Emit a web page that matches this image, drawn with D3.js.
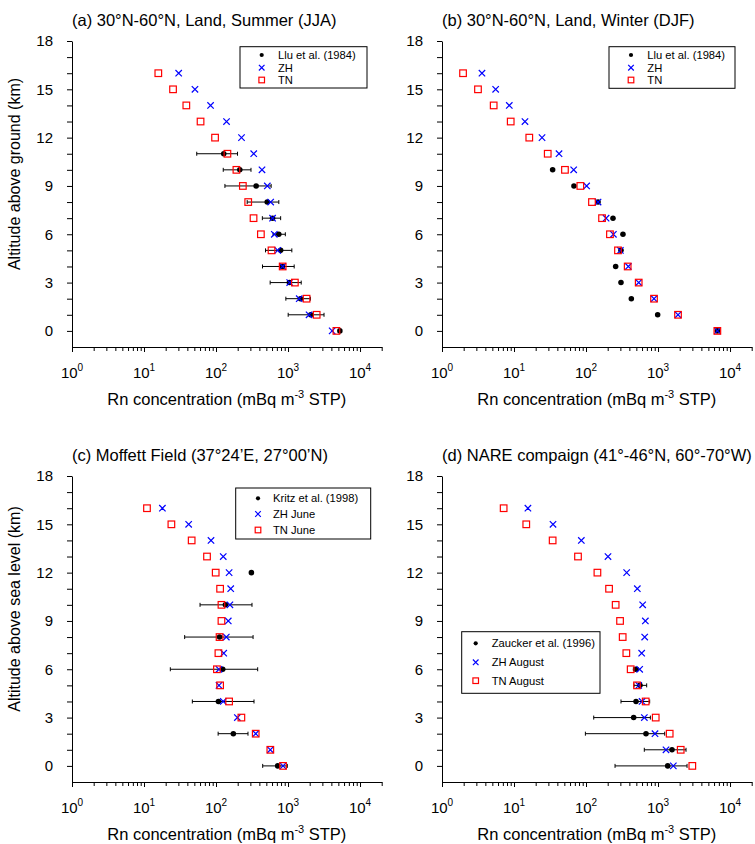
<!DOCTYPE html>
<html>
<head>
<meta charset="utf-8">
<script src="https://cdn.jsdelivr.net/npm/d3@7"></script>
<style>
  body { margin: 0; background: #fff; }
  svg { display: block; font-family: "Liberation Sans", Arial, Helvetica, sans-serif; }
</style>
</head>
<body>
<svg id="fig" width="755" height="844"></svg>
<script>
// altitude levels (km), index 0 = ground
var altitudes = d3.range(0, 17);

// (a) 30N-60N land, summer
var aTN  = [4700, 2500, 1810, 1245, 843, 590, 420, 332, 280, 236, 192, 144, 97, 61, 38.7, 25.3, 15.8];
var aZH  = [4100, 1960, 1430, 1055, 843, 720, 645, 610, 574, 516, 435, 334, 226, 140, 84, 51, 30.3];
var aObs = [5250, 2065, 1490, 1045, 835, 790, 745, 610, 514, 361, 214, 128];
var aLo  = [null, 1005, 933, 565, 442, 487, 620, 440, 271, 133, 126, 54];
var aHi  = [null, 3162, 2044, 1525, 1218, 1130, 918, 790, 745, 583, 306, 199];

// (b) 30N-60N land, winter
var bTN  = [6670, 1896, 880, 539, 379, 278, 215, 167, 121, 83.4, 51, 29.4, 16.3, 9.0, 5.22, 3.16, 1.96];
var bZH  = [6670, 1896, 880, 539, 387, 300, 240, 190, 147, 102, 67.4, 42.2, 24.5, 14.2, 8.6, 5.56, 3.59];
var bObs = [6670, 989, 426, 306, 258, 306, 326, 237, 147, 68, 34.4];

// (c) Moffett Field
var cTN  = [853, 568, 356, 225, 152, 114, 103, 108, 112, 119, 119, 114, 99, 75, 45.9, 24.0, 11.0];
var cZH  = [853, 568, 356, 198, 126, 110, 110, 128, 139, 148, 156, 160, 152, 126, 85.2, 41.7, 18.0];
var cObs = [719, null, 174, null, 108, null, 124, null, 112, null, 135, null, 310];
var cLo  = [445, null, 107, null, 46.9, null, 23.2, null, 36.7, null, 60, null, null];
var cHi  = [977, null, 278, null, 337, null, 379, null, 327, null, 316, null, null];

// (d) NARE
var dTN  = [2994, 2066, 1452, 929, 674, 511, 417, 363, 323, 297, 258, 209, 144, 77.4, 34.4, 14.8, 7.18];
var dZH  = [1632, 1291, 908, 646, 600, 539, 556, 593, 653, 667, 612, 516, 367, 202, 86.1, 34.8, 15.6];
var dObs = [1364, 1564, 681, 459, 495, 562, 490];
var dLo  = [253, 645, 98, 128, 306, 464, 455];
var dHi  = [2529, 2449, 1238, 783, 766, 696, 530];

var decades = [1, 10, 100, 1000, 10000];
var yTicks = d3.range(0, 19);

var panels = [
  { left: 72, top: 41, title: "(a) 30\u00b0N-60\u00b0N, Land, Summer (JJA)", ylab: "Altitude above ground (km)",
    tn: aTN, zh: aZH, obs: aObs, lo: aLo, hi: aHi,
    leg: { x: 240, y: 46.7, w: 127, h: 41.3, mx: 21.7, tx: 38, rows: [8.3, 21, 33.3],
           labels: ["Llu et al. (1984)", "ZH", "TN"] } },
  { left: 442, top: 41, title: "(b) 30\u00b0N-60\u00b0N, Land, Winter (DJF)", ylab: null,
    tn: bTN, zh: bZH, obs: bObs, lo: [], hi: [],
    leg: { x: 609, y: 46.7, w: 126, h: 41.6, mx: 22, tx: 38.3, rows: [8.3, 21, 33.3],
           labels: ["Llu et al. (1984)", "ZH", "TN"] } },
  { left: 72, top: 476, title: "(c) Moffett Field (37\u00b024\u2019E, 27\u00b000\u2019N)", ylab: "Altitude above sea level (km)",
    tn: cTN, zh: cZH, obs: cObs, lo: cLo, hi: cHi,
    leg: { x: 235.7, y: 488, w: 135, h: 51, mx: 22.3, tx: 37.3, rows: [10.3, 26, 42],
           labels: ["Kritz et al. (1998)", "ZH June", "TN June"] } },
  { left: 442, top: 476, title: "(d) NARE compaign (41\u00b0-46\u00b0N, 60\u00b0-70\u00b0W)", ylab: null,
    tn: dTN, zh: dZH, obs: dObs, lo: dLo, hi: dHi,
    leg: { x: 461.7, y: 631.7, w: 138.3, h: 61.6, mx: 14, tx: 30, rows: [11.6, 30.6, 49],
           labels: ["Zaucker et al. (1996)", "ZH August", "TN August"] } }
];

var W = 309.7, H = 306;
var x = d3.scaleLog().domain([1, 20000]).range([0, W]);
var y = d3.scaleLinear().domain([-1, 18]).range([H, 0]);

var minorTicks = [];
decades.forEach(function(d) {
  for (var k = 2; k <= 9; k++) if (d * k <= 20000) minorTicks.push(d * k);
});

var svg = d3.select("#fig");
svg.append("rect").attr("width", 755).attr("height", 844).attr("fill", "white");

function drawMarker(g, type, cx, cy, s) {
  if (type === "obs") {
    g.append("circle").attr("cx", cx).attr("cy", cy).attr("r", s * 0.42).attr("fill", "black");
  } else if (type === "zh") {
    var h = s / 2;
    g.append("path")
      .attr("d", "M" + (cx - h) + "," + (cy - h) + "L" + (cx + h) + "," + (cy + h) +
                 "M" + (cx - h) + "," + (cy + h) + "L" + (cx + h) + "," + (cy - h))
      .attr("stroke", "#0000ff").attr("stroke-width", 1.2).attr("fill", "none");
  } else {
    g.append("rect").attr("x", cx - s / 2).attr("y", cy - s / 2).attr("width", s).attr("height", s)
      .attr("stroke", "#ff0000").attr("stroke-width", 1.2).attr("fill", "none");
  }
}

panels.forEach(function(p) {
  var g = svg.append("g").attr("transform", "translate(" + p.left + "," + p.top + ")");

  // title
  g.append("text").attr("x", 0).attr("y", -15).attr("font-size", "16.5px").text(p.title);

  // y axis
  var ya = g.append("g").call(d3.axisLeft(y).tickValues(yTicks)
    .tickFormat(function(d) { return d % 3 === 0 ? d : ""; })
    .tickSize(5).tickSizeOuter(0).tickPadding(14));
  ya.selectAll("text").attr("font-size", "15px").attr("font-family", null);
  ya.selectAll("line, path").attr("stroke", "black");

  // x axis
  var xa = g.append("g").attr("transform", "translate(0," + H + ")")
    .call(d3.axisBottom(x).tickValues(decades).tickFormat("").tickSize(5).tickSizeOuter(0));
  xa.selectAll("line, path").attr("stroke", "black");
  var xm = g.append("g").attr("transform", "translate(0," + H + ")")
    .call(d3.axisBottom(x).tickValues(minorTicks).tickFormat("").tickSize(4).tickSizeOuter(0));
  xm.select(".domain").remove();
  xm.selectAll("line").attr("stroke", "black");

  decades.forEach(function(d, i) {
    var t = g.append("text").attr("x", x(d)).attr("y", H + 31)
      .attr("text-anchor", "middle").attr("font-size", "15px");
    t.append("tspan").text("10");
    t.append("tspan").attr("dy", -7).attr("font-size", "10px").text(i);
  });

  var xl = g.append("text").attr("x", W / 2).attr("y", H + 58)
    .attr("text-anchor", "middle").attr("font-size", "16.5px");
  xl.append("tspan").text("Rn concentration (mBq m");
  xl.append("tspan").attr("dy", -7).attr("font-size", "11px").text("-3");
  xl.append("tspan").attr("dy", 7).text(" STP)");

  if (p.ylab) {
    g.append("text").attr("transform", "translate(-52," + (H / 2 - 20) + ") rotate(-90)")
      .attr("text-anchor", "middle").attr("font-size", "16px").text(p.ylab);
  }

  // error bars
  var eb = g.append("g").attr("stroke", "black").attr("stroke-width", 1);
  p.lo.forEach(function(lo, i) {
    var hi = p.hi[i];
    if (lo == null || hi == null) return;
    var yy = y(altitudes[i]);
    eb.append("line").attr("x1", x(lo)).attr("x2", x(hi)).attr("y1", yy).attr("y2", yy);
    eb.append("line").attr("x1", x(lo)).attr("x2", x(lo)).attr("y1", yy - 2).attr("y2", yy + 2);
    eb.append("line").attr("x1", x(hi)).attr("x2", x(hi)).attr("y1", yy - 2).attr("y2", yy + 2);
  });

  var mk = g.append("g");
  p.obs.forEach(function(v, i) { if (v != null) drawMarker(mk, "obs", x(v), y(altitudes[i]), 6.6); });
  p.zh.forEach(function(v, i) { drawMarker(mk, "zh", x(v), y(altitudes[i]), 6.4); });
  p.tn.forEach(function(v, i) { drawMarker(mk, "tn", x(v), y(altitudes[i]), 6.6); });

  // legend
  var L = p.leg;
  var lg = svg.append("g").attr("transform", "translate(" + L.x + "," + L.y + ")");
  lg.append("rect").attr("width", L.w).attr("height", L.h)
    .attr("fill", "white").attr("stroke", "black").attr("stroke-width", 1);
  ["obs", "zh", "tn"].forEach(function(type, k) {
    drawMarker(lg, type, L.mx, L.rows[k], type === "obs" ? 5 : 5.6);
    lg.append("text").attr("x", L.tx).attr("y", L.rows[k]).attr("dy", "0.36em")
      .attr("font-size", "11.2px").text(L.labels[k]);
  });
});
</script>
</body>
</html>
